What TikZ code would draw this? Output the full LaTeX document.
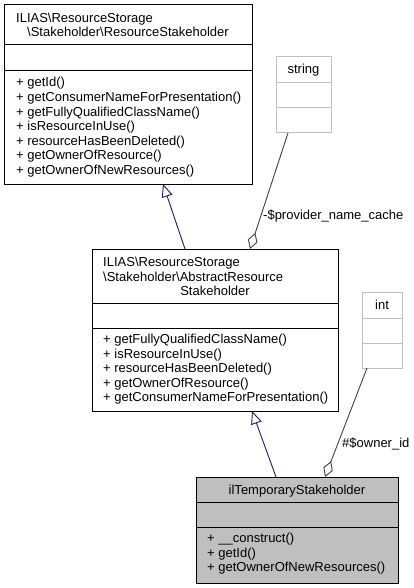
\documentclass[tikz,border=0pt]{standalone}
\usepackage{fontspec}
\setmainfont{Liberation Sans}
\usetikzlibrary{arrows.meta}
\definecolor{edgeblue}{HTML}{191970}
\definecolor{edgegray}{HTML}{404040}
\definecolor{boxgray}{HTML}{BFBFBF}
\begin{document}
\begin{tikzpicture}[x=1pt,y=-1pt,font=\fontsize{13}{14.6}\selectfont,
    classbox/.style={draw=black,line width=1pt,inner sep=0pt,outer sep=0pt,anchor=north west},
    typebox/.style={draw=boxgray,line width=1pt,inner sep=0pt,outer sep=0pt,anchor=north west},
    txt/.style={inner sep=0pt,anchor=base west},
    ctxt/.style={inner sep=0pt,anchor=base},
    inherit/.style={draw=edgeblue,line width=0.9pt,-{Triangle[open,length=13pt,width=11pt]}},
    assoc/.style={draw=edgegray,line width=0.9pt,-{Diamond[open,length=17pt,width=10pt]}}]
  \useasboundingbox (0,0) rectangle (414,588);
  % ResourceStakeholder
  \node[classbox,minimum width=248pt,minimum height=179pt] (base) at (4,5) {};
  \draw[line width=1pt] ([yshift=-40pt]base.north west) -- ([yshift=-40pt]base.north east);
  \draw[line width=1pt] ([yshift=-66pt]base.north west) -- ([yshift=-66pt]base.north east);
  \node[txt] (rsName1) at (16,22.5) {ILIAS\textbackslash ResourceStorage};
  \node[ctxt] (rsName2) at (128,37) {\textbackslash Stakeholder\textbackslash ResourceStakeholder};
  \node[txt] (rsOp1) at (16,87) {+ getId()};
  \node[txt] (rsOp2) at (16,101.6) {+ getConsumerNameForPresentation()};
  \node[txt] (rsOp3) at (16,116.2) {+ getFullyQualifiedClassName()};
  \node[txt] (rsOp4) at (16,130.8) {+ isResourceInUse()};
  \node[txt] (rsOp5) at (16,145.4) {+ resourceHasBeenDeleted()};
  \node[txt] (rsOp6) at (16,160) {+ getOwnerOfResource()};
  \node[txt] (rsOp7) at (16,174.6) {+ getOwnerOfNewResources()};
  % AbstractResourceStakeholder
  \node[classbox,minimum width=246pt,minimum height=162pt] (abstract) at (92,249) {};
  \draw[line width=1pt] ([yshift=-54pt]abstract.north west) -- ([yshift=-54pt]abstract.north east);
  \draw[line width=1pt] ([yshift=-79pt]abstract.north west) -- ([yshift=-79pt]abstract.north east);
  \node[txt] (arsName1) at (103,266.5) {ILIAS\textbackslash ResourceStorage};
  \node[txt] (arsName2) at (103,281) {\textbackslash Stakeholder\textbackslash AbstractResource};
  \node[ctxt] (arsName3) at (215,295.6) {Stakeholder};
  \node[txt] (arsOp1) at (103,343.5) {+ getFullyQualifiedClassName()};
  \node[txt] (arsOp2) at (103,358.1) {+ isResourceInUse()};
  \node[txt] (arsOp3) at (103,372.7) {+ resourceHasBeenDeleted()};
  \node[txt] (arsOp4) at (103,387.3) {+ getOwnerOfResource()};
  \node[txt] (arsOp5) at (103,401.9) {+ getConsumerNameForPresentation()};
  % ilTemporaryStakeholder
  \node[classbox,fill=boxgray,minimum width=202pt,minimum height=106pt] (temp) at (196,477) {};
  \draw[line width=1pt] ([yshift=-25pt]temp.north west) -- ([yshift=-25pt]temp.north east);
  \draw[line width=1pt] ([yshift=-50pt]temp.north west) -- ([yshift=-50pt]temp.north east);
  \node[ctxt] (tmpName) at (297,494.5) {ilTemporaryStakeholder};
  \node[txt] (tmpOp1) at (207,542.5) {+ \_\_construct()};
  \node[txt] (tmpOp2) at (207,557.1) {+ getId()};
  \node[txt] (tmpOp3) at (207,571.7) {+ getOwnerOfNewResources()};
  % string and int
  \node[typebox,minimum width=55pt,minimum height=76pt] (strtype) at (276,57) {};
  \draw[boxgray,line width=1pt] ([yshift=-26pt]strtype.north west) -- ([yshift=-26pt]strtype.north east);
  \draw[boxgray,line width=1pt] ([yshift=-51pt]strtype.north west) -- ([yshift=-51pt]strtype.north east);
  \node[ctxt] (strName) at (303.5,74) {string};
  \node[typebox,minimum width=40pt,minimum height=76pt] (inttype) at (362,292) {};
  \draw[boxgray,line width=1pt] ([yshift=-26pt]inttype.north west) -- ([yshift=-26pt]inttype.north east);
  \draw[boxgray,line width=1pt] ([yshift=-51pt]inttype.north west) -- ([yshift=-51pt]inttype.north east);
  \node[ctxt] (intName) at (382,309.5) {int};
  % connectors
  \draw[inherit] ([xshift=-30pt]abstract.north) -- ([xshift=35pt]base.south);
  \draw[inherit] ([xshift=-21pt]temp.north) -- ([xshift=37pt]abstract.south);
  \draw[assoc] ([xshift=-15.5pt]strtype.south) -- ([xshift=35pt]abstract.north);
  \draw[assoc] ([xshift=-15pt]inttype.south) -- ([xshift=28pt]temp.north);
  \node[txt] (provLabel) at (263,219) {-\$provider\_name\_cache};
  \node[txt] (ownerLabel) at (342,447.5) {\#\$owner\_id};
\end{tikzpicture}
\end{document}
